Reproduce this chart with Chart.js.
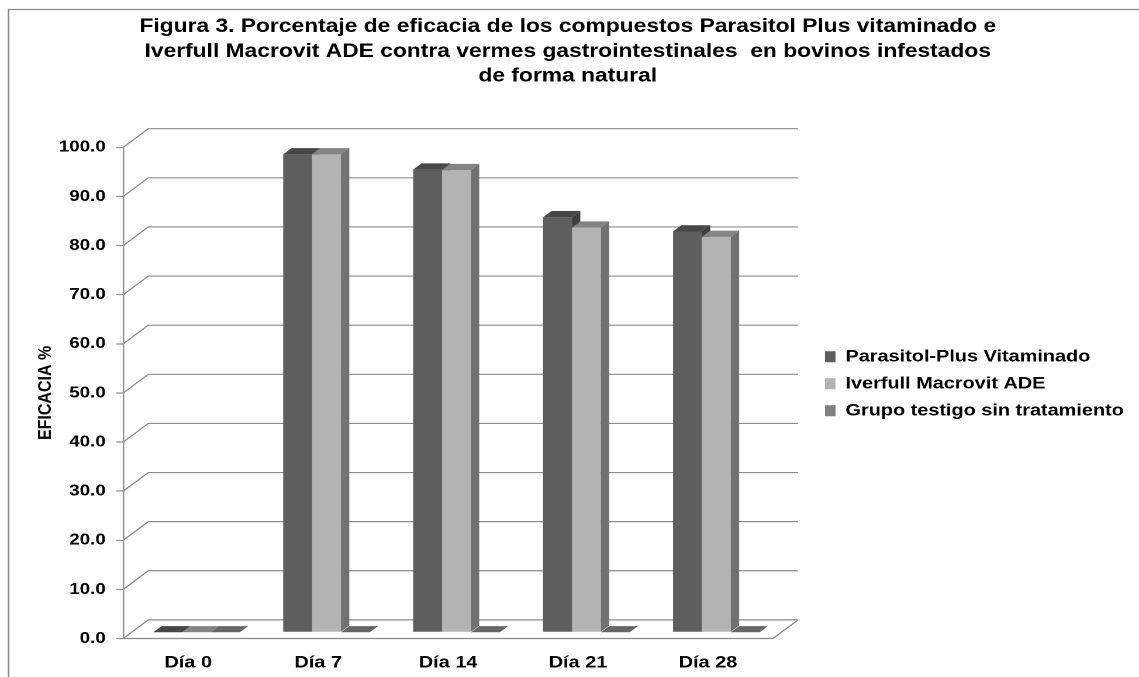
<!DOCTYPE html>
<html lang="es">
<head>
<meta charset="utf-8">
<title>Figura 3</title>
<script src="https://cdn.jsdelivr.net/npm/chart.js@4.4.1/dist/chart.umd.min.js"></script>
<style>
  html, body { margin: 0; padding: 0; background: #fff; overflow: hidden; }
  /* la figura original está estirada en horizontal */
  #marco { position: absolute; left: 0; top: 0; width: 974px; height: 677px;
           transform: scaleX(1.1694); transform-origin: 0 0; }
</style>
</head>
<body>
<div id="marco"><canvas id="grafico" width="974" height="677"></canvas></div>
<script>
// Datos de la figura
const categorias = ['Día 0', 'Día 7', 'Día 14', 'Día 21', 'Día 28'];
const nombresSeries = ['Parasitol-Plus Vitaminado', 'Iverfull Macrovit ADE', 'Grupo testigo sin tratamiento'];
const parasitol = [0, 97.3, 94.2, 84.5, 81.6];
const iverfull = [0, 97.3, 94.1, 82.4, 80.5];
const testigo = [0, 0, 0, 0, 0];
const tituloLineas = [
    'Figura 3. Porcentaje de eficacia de los compuestos Parasitol Plus vitaminado e',
    'Iverfull Macrovit ADE contra vermes gastrointestinales  en bovinos infestados',
    'de forma natural'
];

// Colores: cara frontal, tapa y lado de cada serie
const COLORES = {
    frente: ['#5e5e5e', '#b3b3b3', '#7f7f7f'],
    tapa: ['#474747', '#848484', '#666666'],
    lado: ['#3e3e3e', '#717171', '#5c5c5c']
};
const GRIS = '#8c8c8c';
const FUENTE = "'Liberation Sans', Arial, sans-serif";
const PROF = { x: 21.4, y: -18.6 };   // profundidad del efecto 3D
const AREA_DER = 661;                 // borde derecho del plano frontal
const PAD_DER = 3;
const LEYENDA = { caja: 9, alto: 11, pad: 10, size: 17 };

// Dibuja el marco, la pared del fondo, el piso y las barras en 3D
const efecto3D = {
    id: 'efecto3D',
    beforeDraw(chart) {
        const ctx = chart.ctx;
        ctx.save();
        ctx.fillStyle = '#fff';
        ctx.fillRect(0, 0, chart.width, chart.height);
        ctx.strokeStyle = '#8a8a8a';
        ctx.lineWidth = 1.3;
        ctx.beginPath();
        ctx.moveTo(7.3, chart.height);
        ctx.lineTo(7.3, 9.5);
        ctx.lineTo(chart.width, 9.5);
        ctx.stroke();
        ctx.restore();
    },
    beforeDatasetsDraw(chart) {
        const ctx = chart.ctx;
        const { left, right } = chart.chartArea;
        const escY = chart.scales.y;
        ctx.save();
        ctx.strokeStyle = GRIS;
        ctx.lineWidth = 1.2;
        escY.ticks.forEach(t => {
            const py = escY.getPixelForValue(t.value);
            ctx.beginPath();
            ctx.moveTo(left, py);
            ctx.lineTo(left + PROF.x, py + PROF.y);
            ctx.lineTo(right + PROF.x, py + PROF.y);
            ctx.stroke();
        });
        // piso
        const p0 = escY.getPixelForValue(0);
        ctx.beginPath();
        ctx.moveTo(left, p0);
        ctx.lineTo(right, p0);
        ctx.lineTo(right + PROF.x, p0 + PROF.y);
        ctx.stroke();

        // barras, de izquierda a derecha para que se tapen bien
        const dx = PROF.x / 3, dy = PROF.y / 3;
        ctx.translate(dx, dy);
        categorias.forEach((c, j) => {
            chart.data.datasets.forEach((ds, i) => {
                const barra = chart.getDatasetMeta(i).data[j];
                const { x, y, base, width } = barra.getProps(['x', 'y', 'base', 'width'], true);
                const xl = x - width / 2, xr = x + width / 2;
                barra.draw(ctx);
                ctx.fillStyle = COLORES.lado[i];
                ctx.beginPath();
                ctx.moveTo(xr, y);
                ctx.lineTo(xr + dx, y + dy);
                ctx.lineTo(xr + dx, base + dy);
                ctx.lineTo(xr, base);
                ctx.closePath();
                ctx.fill();
                ctx.fillStyle = COLORES.tapa[i];
                ctx.beginPath();
                ctx.moveTo(xl, y);
                ctx.lineTo(xr, y);
                ctx.lineTo(xr + dx, y + dy);
                ctx.lineTo(xl + dx, y + dy);
                ctx.closePath();
                ctx.fill();
            });
        });
        ctx.restore();
        return false;
    }
};

const series = [parasitol, iverfull, testigo];

new Chart(document.getElementById('grafico'), {
    type: 'bar',
    data: {
        labels: categorias,
        datasets: series.map((valores, i) => ({
            label: nombresSeries[i],
            data: valores,
            backgroundColor: COLORES.frente[i],
            borderWidth: 0,
            barPercentage: 1,
            categoryPercentage: 2 / 3
        }))
    },
    options: {
        responsive: false,
        animation: false,
        devicePixelRatio: 2,
        layout: { padding: { left: 0, top: 0, right: PAD_DER, bottom: 0 } },
        plugins: {
            tooltip: { enabled: false },
            title: {
                display: true,
                text: tituloLineas,
                color: '#000',
                font: { family: FUENTE, size: 19.5, weight: 'bold', lineHeight: 1.27 },
                padding: { top: 14.4, bottom: 58.6 }
            },
            legend: {
                position: 'right',
                fullSize: false,
                align: 'start',
                maxWidth: 420,
                // título vacío: sólo baja las entradas hasta su sitio
                title: { display: true, text: '', font: { size: 12, lineHeight: 1 }, padding: { top: 179, bottom: 0 } },
                labels: {
                    boxWidth: LEYENDA.caja,
                    boxHeight: LEYENDA.alto,
                    padding: LEYENDA.pad,
                    color: '#000',
                    font: { family: FUENTE, size: LEYENDA.size, weight: 'bold' }
                }
            }
        },
        scales: {
            x: {
                grid: { display: false, drawTicks: false },
                border: { display: false },
                ticks: { color: '#000', padding: 14, font: { family: FUENTE, size: 17, weight: 'bold' } },
                afterFit(s) { s.height = 38.5; }
            },
            y: {
                min: 0,
                max: 100,
                ticks: {
                    stepSize: 10,
                    padding: 9,
                    color: '#000',
                    font: { family: FUENTE, size: 16, weight: 'bold' },
                    callback: v => v.toFixed(1)
                },
                grid: { drawOnChartArea: false, drawTicks: true, tickLength: 6, tickColor: GRIS, tickWidth: 1.2 },
                border: { display: true, color: GRIS, width: 1.2 },
                title: {
                    display: true,
                    text: 'EFICACIA %',
                    color: '#000',
                    font: { family: FUENTE, size: 16, weight: 'bold' },
                    padding: { top: 29.5, bottom: 0 }
                },
                afterFit(s) { s.width = 105.4; }
            },
            // separador invisible entre el gráfico y la leyenda
            y2: {
                type: 'linear',
                position: 'right',
                display: true,
                grid: { display: false, drawTicks: false },
                border: { display: false },
                ticks: { display: false },
                afterFit(s) {
                    const ctx = s.ctx;
                    ctx.save();
                    ctx.font = 'bold ' + LEYENDA.size + 'px ' + FUENTE;
                    const maxTexto = Math.max(...nombresSeries.map(t => ctx.measureText(t).width));
                    ctx.restore();
                    const anchoLeyenda = LEYENDA.pad + LEYENDA.caja + LEYENDA.size / 2 + maxTexto + 10;
                    s.width = Math.max(0, s.chart.width - PAD_DER - anchoLeyenda - AREA_DER);
                }
            }
        }
    },
    plugins: [efecto3D]
});
</script>
</body>
</html>
